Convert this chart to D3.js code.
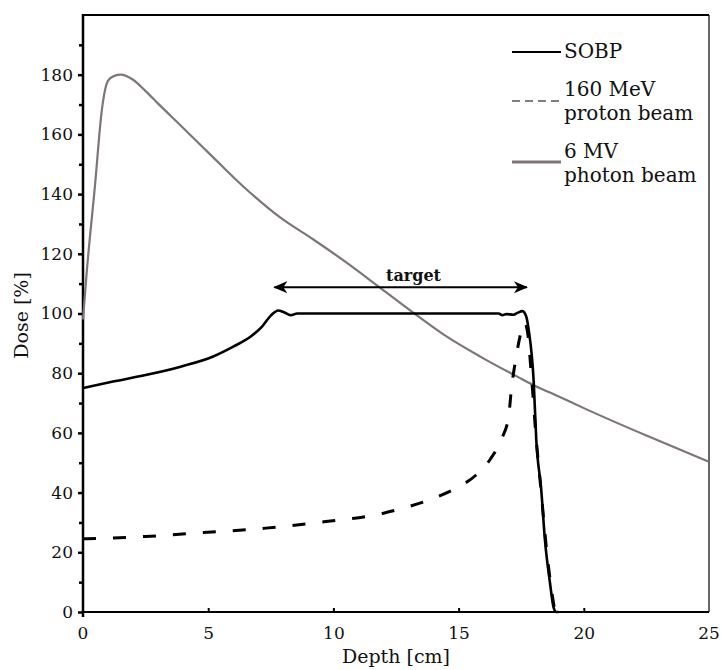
<!DOCTYPE html>
<html>
<head>
<meta charset="utf-8">
<script src="https://cdn.jsdelivr.net/npm/d3@7"></script>
<style>
  body { margin: 0; background: #fff; }
  svg { display: block; }
  text { font-family: "DejaVu Serif", serif; fill: #111; }
</style>
</head>
<body>
<div id="chart"></div>
<script>
// depth [cm] and dose [%]
var sobpDepth = [0, 1.2, 2.5, 3.9, 5.2, 6.0, 6.7, 7.15, 7.5, 7.8, 8.0, 8.3, 8.55, 10, 12, 14, 16, 16.6, 16.75, 16.9, 17.2, 17.35, 17.55, 17.7, 17.8, 18.0, 18.1, 18.3, 18.45, 18.65, 18.8, 18.9, 19.0];
var sobpDose  = [75, 77.2, 79.4, 82.2, 85.6, 88.9, 92.3, 95.6, 99.3, 101, 100.5, 99.4, 100, 100, 100, 100, 100, 100, 99.4, 99.8, 99.6, 100.2, 100.8, 99, 94.5, 77, 58, 41, 24, 9.7, 1.3, 0, 0];

var protonDepth = [0, 2.5, 4.8, 7.3, 9.7, 12, 13, 14, 14.9, 15.7, 16.25, 16.7, 17.0, 17.1, 17.3, 17.5, 17.62, 17.75, 17.9, 18.1, 18.3, 18.5, 18.7, 18.85];
var protonDose  = [24.5, 25.3, 26.6, 28.1, 30.3, 33.1, 35.3, 38.1, 41.5, 45.9, 51, 57.7, 65.5, 74, 85.6, 94, 97, 94, 80, 58, 40, 22, 8, 0];

var photonDepth = [0, 0.15, 0.48, 0.75, 1.0, 1.25, 1.5, 2.0, 2.5, 3.0, 3.9, 5.2, 6.5, 7.9, 9.2, 10.5, 11.9, 13.2, 14.5, 15.9, 17.4, 18.0, 19.0, 20.0, 22.5, 25];
var photonDose  = [98, 114, 143, 168, 178, 179.6, 180, 178.3, 174.5, 170.3, 163, 152.3, 141.8, 132, 124.8, 117.2, 108.4, 100.2, 92.4, 85.4, 78.6, 76, 72.2, 68.3, 59.1, 50.3];

var xTicks = [0, 5, 10, 15, 20, 25];
var yTicks = [0, 20, 40, 60, 80, 100, 120, 140, 160, 180];
var yMinorTicks = [10, 30, 50, 70, 90, 110, 130, 150, 170, 190];

var targetRange = [7.6, 17.77];
var targetDose = 108.8;

var legendNames = [["SOBP"], ["160 MeV", "proton beam"], ["6 MV", "photon beam"]];

var width = 724, height = 670;
var plotL = 83, plotR = 709, plotT = 15, plotB = 612;
var grey = "#7d7674";

var svg = d3.select("#chart").append("svg")
  .attr("width", width)
  .attr("height", height);

var x = d3.scaleLinear().domain([0, 25]).range([plotL, plotR]);
var y = d3.scaleLinear().domain([0, 200]).range([plotB, plotT]);

// y axis
var yAxis = svg.append("g")
  .attr("transform", "translate(" + plotL + ",0)")
  .call(d3.axisLeft(y).tickValues(yTicks).tickSize(5).tickPadding(5));
yAxis.select(".domain").remove();
yAxis.selectAll("line").style("stroke", "#000").style("stroke-width", 2.5);
yAxis.selectAll("text").style("font-size", "17px").style("font-family", "DejaVu Serif");

svg.append("g")
  .attr("transform", "translate(" + plotL + ",0)")
  .call(d3.axisLeft(y).tickValues(yMinorTicks).tickSize(4).tickFormat(""))
  .call(function(g) { g.select(".domain").remove(); })
  .selectAll("line").style("stroke", "#000").style("stroke-width", 2.5);

// x axis, ticks pointing inward
var xAxis = svg.append("g")
  .attr("transform", "translate(0," + plotB + ")")
  .call(d3.axisBottom(x).tickValues(xTicks.slice(1, 5)).tickSize(-4).tickPadding(15));
xAxis.select(".domain").remove();
xAxis.selectAll("line").style("stroke", "#000").style("stroke-width", 2);
xAxis.selectAll("text").style("font-size", "17px").style("font-family", "DejaVu Serif");

svg.append("g")
  .attr("transform", "translate(0," + plotB + ")")
  .selectAll("text")
  .data([xTicks[0], xTicks[5]])
  .enter().append("text")
  .attr("x", function(d) { return x(d); })
  .attr("y", 15)
  .attr("dy", "0.71em")
  .attr("text-anchor", "middle")
  .style("font-size", "17px")
  .text(function(d) { return d; });

// frame
svg.append("line").attr("x1", plotL).attr("x2", plotL).attr("y1", plotT - 1).attr("y2", plotB + 5)
  .attr("stroke", "#000").attr("stroke-width", 2.5);
svg.append("line").attr("x1", plotL).attr("x2", plotR).attr("y1", plotB).attr("y2", plotB)
  .attr("stroke", "#000").attr("stroke-width", 2);
svg.append("line").attr("x1", plotL).attr("x2", plotR).attr("y1", plotT).attr("y2", plotT)
  .attr("stroke", "#000").attr("stroke-width", 2);
svg.append("line").attr("x1", plotR).attr("x2", plotR).attr("y1", plotT).attr("y2", plotB)
  .attr("stroke", "#000").attr("stroke-width", 1.2);

// axis titles
svg.append("text")
  .attr("x", (plotL + plotR) / 2)
  .attr("y", 663)
  .attr("text-anchor", "middle")
  .style("font-size", "19px")
  .text("Depth [cm]");

svg.append("text")
  .attr("transform", "translate(28," + ((plotT + plotB) / 2 + 2) + ") rotate(-90)")
  .attr("text-anchor", "middle")
  .style("font-size", "19px")
  .text("Dose [%]");

// curves
var line = d3.line()
  .x(function(d) { return x(d[0]); })
  .y(function(d) { return y(d[1]); })
  .curve(d3.curveMonotoneX);

var plot = svg.append("g");

plot.append("path")
  .datum(d3.zip(photonDepth, photonDose))
  .attr("d", line)
  .attr("fill", "none")
  .attr("stroke", grey)
  .attr("stroke-width", 2.2);

plot.append("path")
  .datum(d3.zip(protonDepth, protonDose))
  .attr("d", line)
  .attr("fill", "none")
  .attr("stroke", "#000")
  .attr("stroke-width", 3)
  .attr("stroke-dasharray", "13,17");

plot.append("path")
  .datum(d3.zip(sobpDepth, sobpDose))
  .attr("d", line)
  .attr("fill", "none")
  .attr("stroke", "#000")
  .attr("stroke-width", 2.6);

// target arrow
var defs = svg.append("defs");
defs.append("marker")
  .attr("id", "head")
  .attr("viewBox", "0 0 14 12")
  .attr("refX", 13)
  .attr("refY", 6)
  .attr("markerWidth", 14)
  .attr("markerHeight", 12)
  .attr("markerUnits", "userSpaceOnUse")
  .attr("orient", "auto-start-reverse")
  .append("path")
  .attr("d", "M0,0 L14,6 L0,12 L4,6 Z")
  .attr("fill", "#000");

svg.append("line")
  .attr("x1", x(targetRange[0]) + 1)
  .attr("x2", x(targetRange[1]) - 1)
  .attr("y1", y(targetDose))
  .attr("y2", y(targetDose))
  .attr("stroke", "#000")
  .attr("stroke-width", 2)
  .attr("marker-start", "url(#head)")
  .attr("marker-end", "url(#head)");

svg.append("text")
  .attr("x", x(13.2))
  .attr("y", y(targetDose) - 6)
  .attr("text-anchor", "middle")
  .style("font-size", "16px")
  .style("font-weight", "bold")
  .text("target");

// legend
var legendLineY = [52, 101, 162];
var legendTextY = [58, 96, 158];
var legend = svg.append("g");

legend.append("line")
  .attr("x1", 512).attr("x2", 561).attr("y1", legendLineY[0]).attr("y2", legendLineY[0])
  .attr("stroke", "#000").attr("stroke-width", 2.2);
legend.append("line")
  .attr("x1", 512).attr("x2", 561).attr("y1", legendLineY[1]).attr("y2", legendLineY[1])
  .attr("stroke", "#000").attr("stroke-width", 1.2).attr("stroke-dasharray", "8,5");
legend.append("line")
  .attr("x1", 512).attr("x2", 561).attr("y1", legendLineY[2]).attr("y2", legendLineY[2])
  .attr("stroke", grey).attr("stroke-width", 3);

legendNames.forEach(function(lines, i) {
  var t = legend.append("text")
    .attr("x", 564)
    .attr("y", legendTextY[i])
    .style("font-size", "20px");
  lines.forEach(function(s, j) {
    t.append("tspan")
      .attr("x", 564)
      .attr("dy", j === 0 ? 0 : 24)
      .text(s);
  });
});
</script>
</body>
</html>
